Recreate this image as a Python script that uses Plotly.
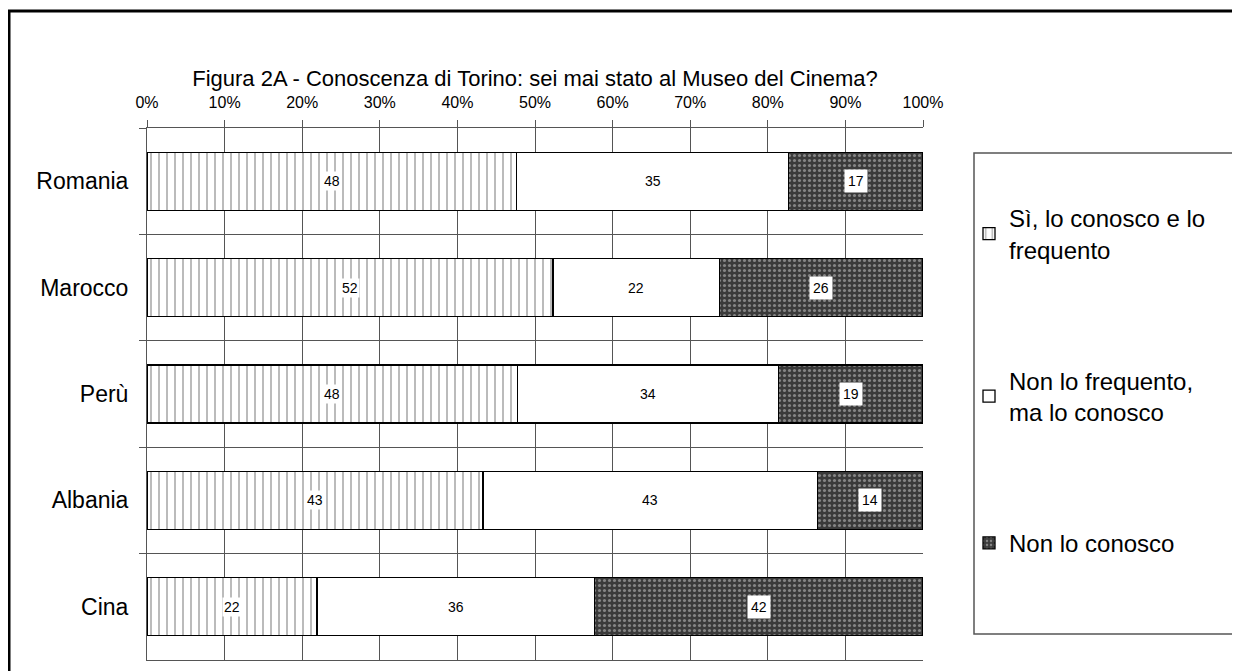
import plotly.graph_objects as go

categories = ["Romania", "Marocco", "Perù", "Albania", "Cina"]
series_names = ["Sì, lo conosco e lo<br>frequento", "Non lo frequento,<br>ma lo conosco", "Non lo conosco"]
si_frequento = [47.6, 52.3, 47.7, 43.3, 21.9]
non_frequento = [35.1, 21.5, 33.7, 43.1, 35.8]
non_conosco = [17.3, 26.2, 18.6, 13.6, 42.3]
x_ticks = [0, 10, 20, 30, 40, 50, 60, 70, 80, 90, 100]
title_text = "Figura 2A - Conoscenza di Torino: sei mai stato al Museo del Cinema?"

FONT = "Liberation Sans, Arial, sans-serif"
series = [si_frequento, non_frequento, non_conosco]

# page offset (browser body margin)
OFF = 8
W, H = 1240, 671
PL, PR, PT, PB = 147 - OFF, 923 - OFF, 128 - OFF, 660 - OFF
PW, PH = PR - PL, PB - PT


def px(xpage):
    return (xpage - OFF - PL) / PW


def py(ypage):
    return (PB - (ypage - OFF)) / PH


styles = [
    dict(color="white", pattern=dict(shape="|", fgcolor="#555555", bgcolor="white", size=8, solidity=0.2)),
    dict(color="white"),
    dict(color="#3a3a3a", pattern=dict(shape=".", fgcolor="#d0d0d0", bgcolor="#3a3a3a", size=5, solidity=0.3)),
]

fig = go.Figure()
for i, (name, vals) in enumerate(zip(series_names, series)):
    fig.add_trace(go.Bar(
        y=categories, x=vals, name=name, orientation="h",
        marker=dict(**styles[i], line=dict(color="black", width=1.3)),
        legendgroup=f"g{i}", hoverinfo="x+y+name",
    ))

annotations = []
for ci, cat in enumerate(categories):
    start = 0
    for si, vals in enumerate(series):
        v = vals[ci]
        annotations.append(dict(
            x=start + v / 2, y=cat, xref="x", yref="y", text=str(round(v)),
            showarrow=False, font=dict(family=FONT, size=14, color="black"),
            bgcolor="white", borderpad=3 if si == 2 else 1,
        ))
        start += v

fig.update_layout(
    width=W, height=H,
    barmode="stack", bargap=0.455,
    paper_bgcolor="white", plot_bgcolor="white",
    margin=dict(l=PL, r=W - PR, t=PT, b=H - PB),
    font=dict(family=FONT, size=16, color="black"),
    title=dict(text=title_text, x=(535 - OFF) / W, xanchor="center", y=1 - (78 - OFF) / H, yanchor="middle",
               font=dict(family=FONT, size=22, color="black")),
    xaxis=dict(side="top", range=[0, 100], tickvals=x_ticks, ticktext=[f"{t}%" for t in x_ticks],
               showgrid=True, gridcolor="#555555", gridwidth=1, zeroline=False,
               showline=True, mirror=True, linecolor="#555555", linewidth=1,
               ticks="outside", ticklen=7, tickcolor="#555555", ticklabelstandoff=6,
               tickfont=dict(family=FONT, size=16, color="black"), fixedrange=True),
    yaxis=dict(type="category", categoryorder="array", categoryarray=categories, autorange="reversed",
               tickson="boundaries", showgrid=True, gridcolor="#555555", gridwidth=1,
               showline=True, linecolor="#555555", linewidth=1,
               ticks="outside", ticklen=7, tickcolor="#555555", ticklabelstandoff=13,
               tickfont=dict(family=FONT, size=23, color="black"), fixedrange=True),
    legend=dict(x=px(969), xanchor="left", y=py(196), yanchor="top",
                traceorder="grouped", tracegroupgap=97, bgcolor="rgba(0,0,0,0)",
                font=dict(family=FONT, size=24, color="black"), borderwidth=0),
    annotations=annotations,
    shapes=[
        dict(type="rect", xref="paper", yref="paper",
             x0=px(974), x1=px(1238), y0=py(634), y1=py(153),
             line=dict(color="#555555", width=1.5), fillcolor="rgba(0,0,0,0)", layer="below"),
        dict(type="rect", xref="paper", yref="paper",
             x0=px(9), x1=px(1300), y0=py(720), y1=py(11),
             line=dict(color="black", width=3), fillcolor="rgba(0,0,0,0)", layer="below"),
    ],
)

fig.write_html("out.html")
